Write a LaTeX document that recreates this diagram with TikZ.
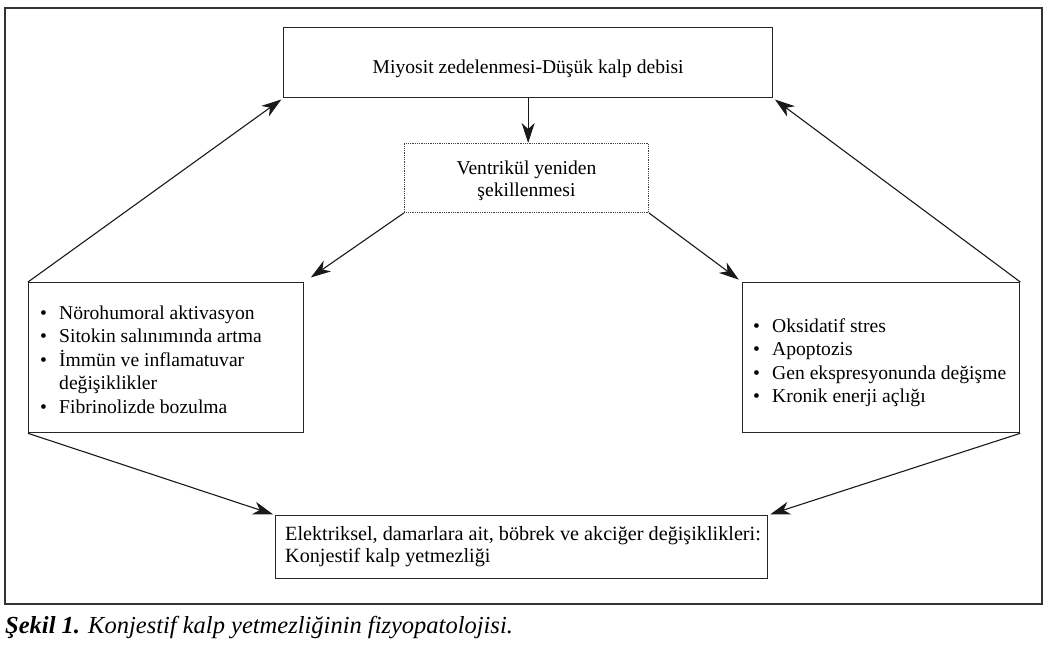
\documentclass[tikz,border=0pt]{standalone}
\usepackage{fontspec}
\setmainfont{Liberation Serif}
\usetikzlibrary{arrows.meta}
\begin{document}
\begin{tikzpicture}[x=1pt,y=-1pt,
  box/.style={draw=black!85,line width=1.3pt,rectangle,inner sep=0pt,font=\fontsize{19.6}{23.5}\selectfont},
  dotbox/.style={draw=black!75,line width=0.9pt,dash pattern=on 0.9pt off 0.9pt,rectangle,inner sep=0pt},
  txt/.style={inner sep=0pt,align=left,anchor=west,font=\fontsize{19.6}{23.5}\selectfont},
  arr/.style={draw=black!90,line width=1.1pt,-{Stealth[length=20pt,width=13pt,inset=6pt]}}]
\useasboundingbox (0,0) rectangle (1046,650);
\draw[line width=2pt,black!80] (5,8) rectangle (1042,604);
\node[box,minimum width=489,minimum height=70,anchor=north west] (T) at (283,27) {\raisebox{-11pt}[0pt][0pt]{Miyosit zedelenmesi-Düşük kalp debisi}};
\node[dotbox,minimum width=244,minimum height=69,anchor=north west] (D) at (404,143) {};
\node[inner sep=0pt,align=center,font=\fontsize{19.6}{22}\selectfont] (Dt) at ([yshift=-3pt]D.center) {Ventrikül yeniden\\şekillenmesi};
\node[box,minimum width=275,minimum height=150,anchor=north west] (L) at (28,282) {};
\node[txt] (Lt) at ([xshift=12pt,yshift=-2pt]L.west)
 {\makebox[19pt][l]{•}Nörohumoral aktivasyon\\
  \makebox[19pt][l]{•}Sitokin salınımında artma\\
  \makebox[19pt][l]{•}İmmün ve inflamatuvar\\
  \hspace*{19pt}değişiklikler\\
  \makebox[19pt][l]{•}Fibrinolizde bozulma};
\node[box,minimum width=277,minimum height=150,anchor=north west] (R) at (742,282) {};
\node[txt] (Rt) at ([xshift=11pt,yshift=-5pt]R.west)
 {\makebox[19pt][l]{•}Oksidatif stres\\
  \makebox[19pt][l]{•}Apoptozis\\
  \makebox[19pt][l]{•}Gen ekspresyonunda değişme\\
  \makebox[19pt][l]{•}Kronik enerji açlığı};
\node[box,minimum width=492,minimum height=63,anchor=north west] (B) at (275,515) {};
\node[txt,font=\fontsize{20.2}{22}\selectfont] (Bt) at ([xshift=10pt]B.west)
 {Elektriksel, damarlara ait, böbrek ve akciğer değişiklikleri:\\Konjestif kalp yetmezliği};
\draw[arr] (T.south) -- (T.south |- D.north);
\draw[arr,shorten >=8pt] (D.south west) -- (L.north east);
\draw[arr,shorten >=4pt] (D.south east) -- (R.north west);
\draw[arr,shorten >=2pt] (L.north west) -- (T.south west);
\draw[arr,shorten >=2pt] (R.north east) -- (T.south east);
\draw[arr,shorten >=2pt] (L.south west) -- (B.north west);
\draw[arr,shorten >=2pt] (R.south east) -- (B.north east);
\node[anchor=west,inner sep=0pt,font=\fontsize{24.5}{28}\selectfont\itshape] (C) at (5,628) {\textbf{Şekil 1.} Konjestif kalp yetmezliğinin fizyopatolojisi.};
\end{tikzpicture}
\end{document}
